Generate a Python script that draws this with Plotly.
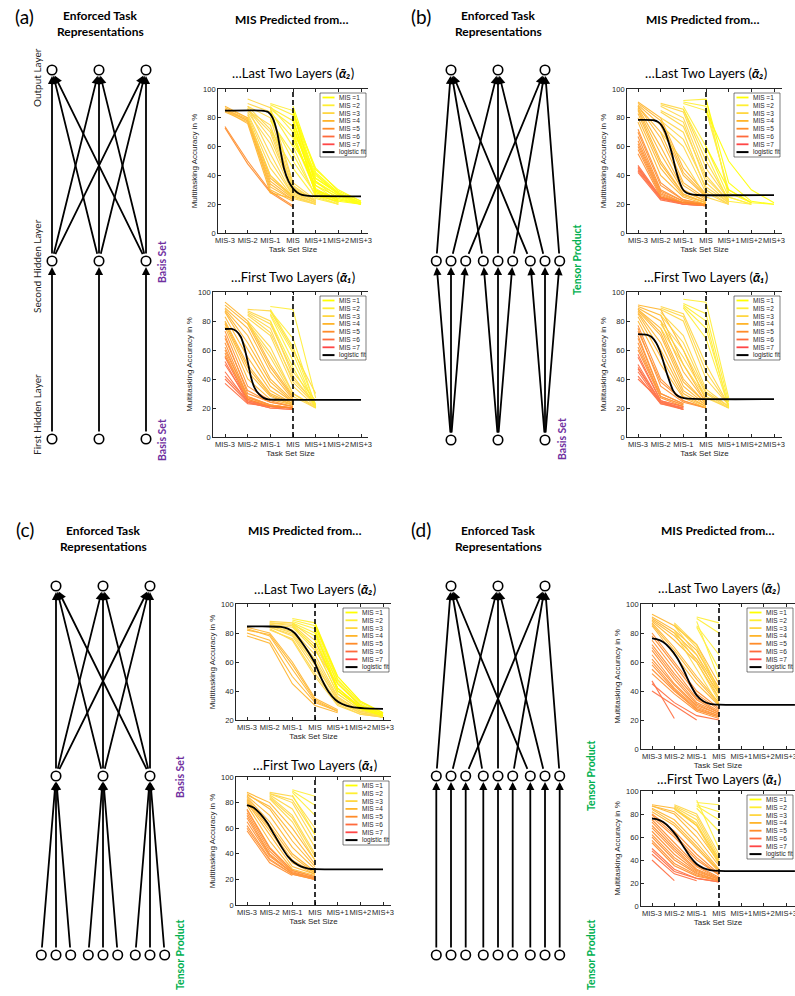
import plotly.graph_objects as go

W, H = 795, 996

# ---------------- data ----------------
MIS_COLORS = ["#FFFF00", "#FFEE33", "#FFD642", "#FFB42A", "#FF8C2A", "#FF6A3C", "#FF4646"]
LEGEND_LABELS = ["MIS =1", "MIS =2", "MIS =3", "MIS =4", "MIS =5", "MIS =6", "MIS =7", "logistic fit"]
X_TICKS = [-3, -2, -1, 0, 1, 2, 3]
X_TICK_TEXT = ["MIS-3", "MIS-2", "MIS-1", "MIS", "MIS+1", "MIS+2", "MIS+3"]
Y_TICKS = [0, 20, 40, 60, 80, 100]

# each network: (MIS of network, first task-set-size offset, accuracies in %)
A2_LINES = [
    (1, 0, [88, 42, 28, 21]), (1, 0, [85, 38, 27, 20]), (1, 0, [83, 44, 30, 22]),
    (1, 0, [78, 35, 26, 20]), (1, 0, [75, 30, 24, 20]), (1, 0, [70, 40, 27, 21]),
    (1, 0, [65, 33, 25, 20]), (1, 0, [86, 28, 23, 20]), (1, 0, [62, 36, 26, 21]),
    (1, 0, [80, 26, 22, 20]), (1, 0, [72, 38, 28, 21]), (1, 0, [68, 29, 24, 20]),
    (1, 0, [84, 45, 29, 22]), (1, 0, [77, 41, 27, 21]),
    (2, -1, [90, 85, 33, 22]), (2, -1, [88, 70, 28, 21]), (2, -1, [85, 60, 25, 20]),
    (2, -1, [80, 50, 27, 21]), (2, -1, [87, 78, 30, 22]), (2, -1, [72, 45, 24, 20]),
    (2, -1, [89, 82, 36, 23]), (2, -1, [84, 66, 29, 21]), (2, -1, [86, 74, 31, 22]),
    (2, -1, [78, 55, 26, 20]),
    (3, -2, [93, 87, 35, 23]), (3, -2, [88, 80, 30, 22]), (3, -2, [86, 70, 28, 21]),
    (3, -2, [84, 62, 27, 21]), (3, -2, [87, 55, 26, 20]), (3, -2, [82, 45, 25, 20]),
    (3, -2, [85, 75, 32, 22]), (3, -2, [90, 84, 33, 22]), (3, -2, [86, 66, 29, 21]),
    (3, -2, [83, 50, 26, 20]), (3, -2, [88, 72, 31, 22]), (3, -2, [80, 40, 24, 20]),
    (4, -3, [88, 80, 40, 25]), (4, -3, [85, 78, 36, 24]), (4, -3, [84, 77, 32, 23]),
    (4, -3, [86, 79, 30, 22]), (4, -3, [85, 76, 28, 24]), (4, -3, [87, 80, 38, 25]),
    (4, -3, [86, 78, 34, 23]),
    (5, -3, [74, 50, 29, 19]), (5, -3, [73, 48, 28, 18]),
]
A2_FIT_X = [-3, -1.4, -1.1, -0.9, -0.7, -0.55, -0.4, -0.2, 0, 0.2, 0.4, 0.7, 1.0, 3.0]
A2_FIT_Y = [85, 85, 84, 80, 70, 57, 45, 36, 31, 28, 26.5, 25.8, 25.6, 25.5]

A1_LINES = [
    (2, -1, [90, 88, 27]), (2, -1, [87, 68, 21]), (2, -1, [85, 58, 20]), (2, -1, [80, 48, 20]),
    (2, -1, [88, 62, 22]), (2, -1, [84, 52, 21]),
    (3, -2, [88, 87, 60, 30]), (3, -2, [87, 80, 42, 22]), (3, -2, [85, 75, 38, 22]),
    (3, -2, [82, 70, 35, 21]), (3, -2, [80, 62, 30, 20]), (3, -2, [78, 55, 28, 20]),
    (3, -2, [86, 78, 45, 25]), (3, -2, [84, 72, 40, 23]), (3, -2, [79, 58, 30, 21]),
    (4, -3, [93, 80, 50, 28]), (4, -3, [89, 75, 45, 26]), (4, -3, [88, 70, 40, 25]),
    (4, -3, [86, 60, 35, 24]), (4, -3, [80, 50, 30, 23]), (4, -3, [78, 45, 28, 22]),
    (4, -3, [76, 40, 26, 22]), (4, -3, [91, 78, 48, 27]), (4, -3, [87, 65, 38, 24]),
    (4, -3, [83, 55, 32, 23]), (4, -3, [79, 48, 29, 22]),
    (5, -3, [73, 35, 25, 21]), (5, -3, [70, 30, 24, 21]), (5, -3, [65, 28, 22, 20]),
    (5, -3, [62, 27, 22, 20]), (5, -3, [58, 26, 21, 20]), (5, -3, [68, 32, 24, 21]),
    (5, -3, [60, 28, 22, 20]), (5, -3, [56, 27, 22, 20]),
    (6, -3, [55, 25, 21, 20]), (6, -3, [52, 24, 20, 19]), (6, -3, [42, 25, 21, 20]),
    (6, -3, [40, 24, 20, 19]), (6, -3, [37, 23, 21, 20]), (6, -3, [50, 26, 21, 20]),
    (6, -3, [45, 24, 21, 20]),
]
A1_FIT_X = [-3, -2.7, -2.5, -2.3, -2.15, -2.0, -1.85, -1.7, -1.5, -1.3, -1.1, -0.8, 3.0]
A1_FIT_Y = [74.5, 74.5, 73, 69, 62, 52, 41, 34, 29.5, 27, 26, 25.7, 25.6]

B2_LINES = [
    (1, 0, [85, 50, 30, 21]), (1, 0, [93, 35, 22, 20]), (1, 0, [60, 30, 21, 20]),
    (2, -1, [92, 93, 25, 20]), (2, -1, [90, 85, 30, 21]), (2, -1, [88, 60, 25, 20]),
    (2, -1, [86, 55, 22, 20]), (2, -1, [91, 88, 28, 21]),
    (3, -2, [90, 86, 50, 23]), (3, -2, [88, 80, 40, 22]), (3, -2, [85, 77, 35, 21]),
    (3, -2, [80, 70, 30, 20]), (3, -2, [75, 60, 28, 20]), (3, -2, [70, 50, 25, 20]),
    (3, -2, [89, 84, 45, 23]), (3, -2, [84, 74, 38, 22]), (3, -2, [78, 65, 32, 21]),
    (4, -3, [91, 80, 45, 27]), (4, -3, [89, 75, 40, 25]), (4, -3, [88, 70, 35, 24]),
    (4, -3, [87, 60, 30, 22]), (4, -3, [85, 50, 27, 21]), (4, -3, [80, 45, 26, 21]),
    (4, -3, [77, 40, 25, 20]), (4, -3, [90, 78, 42, 26]), (4, -3, [88, 66, 33, 23]),
    (4, -3, [86, 55, 29, 22]), (4, -3, [83, 48, 27, 21]),
    (5, -3, [72, 35, 23, 20]), (5, -3, [67, 30, 22, 20]), (5, -3, [62, 28, 21, 19]),
    (5, -3, [58, 26, 21, 20]), (5, -3, [55, 25, 21, 20]), (5, -3, [70, 33, 23, 20]),
    (5, -3, [64, 29, 22, 20]), (5, -3, [60, 27, 21, 20]),
    (6, -3, [47, 25, 21, 20]), (6, -3, [45, 24, 20, 19]), (6, -3, [43, 24, 21, 20]),
    (6, -3, [42, 23, 20, 19]), (6, -3, [46, 24, 21, 20]), (6, -3, [44, 25, 20, 19]),
]
B2_FIT_X = [-3, -2.3, -2.1, -1.95, -1.8, -1.65, -1.5, -1.35, -1.2, -1.05, -0.9, -0.7, -0.4, 3.0]
B2_FIT_Y = [78.5, 78.3, 77, 74.5, 70, 63, 55, 45, 37, 31, 28.3, 27, 26.4, 26.3]

B1_LINES = [
    (2, -1, [95, 93, 27]), (2, -1, [91, 80, 20]), (2, -1, [90, 75, 22]), (2, -1, [89, 68, 21]),
    (2, -1, [92, 85, 24]),
    (3, -2, [90, 85, 50, 22]), (3, -2, [88, 80, 40, 22]), (3, -2, [86, 70, 33, 21]),
    (3, -2, [80, 60, 30, 20]), (3, -2, [75, 50, 27, 20]), (3, -2, [89, 83, 45, 22]),
    (3, -2, [84, 65, 31, 21]), (3, -2, [78, 55, 28, 20]),
    (4, -3, [91, 88, 60, 25]), (4, -3, [89, 80, 45, 24]), (4, -3, [88, 75, 40, 23]),
    (4, -3, [87, 70, 35, 22]), (4, -3, [85, 60, 30, 21]), (4, -3, [80, 50, 27, 20]),
    (4, -3, [90, 84, 50, 24]), (4, -3, [88, 72, 38, 23]), (4, -3, [86, 65, 32, 22]),
    (4, -3, [83, 55, 28, 21]),
    (5, -3, [77, 40, 25, 20]), (5, -3, [75, 35, 24, 20]), (5, -3, [70, 30, 23]),
    (5, -3, [65, 28, 22]), (5, -3, [60, 27, 21]), (5, -3, [73, 38, 25, 20]),
    (5, -3, [68, 30, 23]), (5, -3, [62, 28, 22]),
    (6, -3, [57, 25, 21]), (6, -3, [50, 24, 20]), (6, -3, [47, 24, 19]),
    (6, -3, [45, 23, 20]), (6, -3, [42, 23, 19]), (6, -3, [40, 25, 19]),
    (6, -3, [55, 25, 21]), (6, -3, [48, 24, 20]),
]
B1_FIT_X = [-3, -2.6, -2.4, -2.2, -2.05, -1.9, -1.75, -1.6, -1.45, -1.3, -1.1, -0.8, 3.0]
B1_FIT_Y = [71, 70.5, 69, 65, 60, 53, 45, 38, 32, 29, 27.3, 26.4, 26.1]

C2_LINES = [
    (1, 0, [85, 50, 33, 25]), (1, 0, [80, 45, 30, 24]), (1, 0, [75, 42, 28, 23]),
    (1, 0, [87, 48, 32, 25]), (1, 0, [82, 40, 29, 23]),
    (2, -1, [90, 87, 50, 33, 25]), (2, -1, [88, 83, 45, 30, 24]), (2, -1, [86, 78, 40, 28, 23]),
    (2, -1, [85, 70, 38, 27, 22]), (2, -1, [89, 85, 47, 31, 24]), (2, -1, [87, 80, 42, 29, 23]),
    (3, -2, [88, 87, 75, 40, 28, 24]), (3, -2, [87, 85, 70, 38, 27, 23]),
    (3, -2, [86, 82, 65, 36, 26, 23]), (3, -2, [85, 80, 60, 33, 25, 22]),
    (3, -2, [84, 78, 55, 32, 25, 22]), (3, -2, [83, 75, 50, 30, 24, 22]),
    (3, -2, [86, 84, 68, 45, 30, 25]), (3, -2, [87, 86, 72, 42, 29, 24]),
    (3, -2, [85, 81, 62, 35, 26, 23]), (3, -2, [84, 79, 58, 34, 25, 22]),
    (3, -2, [82, 76, 52, 31, 24, 22]),
    (4, -3, [84, 80, 60, 35, 27]), (4, -3, [83, 78, 55, 33, 26]),
    (4, -3, [80, 75, 50, 32, 26]), (4, -3, [78, 73, 45, 30, 25]), (4, -3, [82, 79, 58, 34, 26]),
]
C2_FIT_X = [-3, -2, -1.5, -1.2, -0.9, -0.6, -0.3, 0, 0.3, 0.6, 0.9, 1.2, 1.6, 2.2, 3.0]
C2_FIT_Y = [84.5, 84.5, 84.2, 83, 80, 74, 67, 59, 48, 39.5, 34, 31, 29, 28, 27.7]

C1_LINES = [
    (2, -1, [90, 85]), (2, -1, [88, 70]), (2, -1, [86, 55]), (2, -1, [89, 78]),
    (3, -2, [88, 85, 60]), (3, -2, [87, 80, 50]), (3, -2, [86, 75, 45]),
    (3, -2, [85, 70, 40]), (3, -2, [83, 65, 35]), (3, -2, [87, 82, 55]), (3, -2, [84, 68, 38]),
    (4, -3, [88, 80, 60, 35]), (4, -3, [87, 75, 50, 30]), (4, -3, [85, 70, 45, 28]),
    (4, -3, [84, 65, 40, 26]), (4, -3, [82, 60, 35, 25]), (4, -3, [80, 55, 30, 24]),
    (4, -3, [78, 50, 28, 23]), (4, -3, [86, 77, 55, 32]), (4, -3, [83, 62, 38, 25]),
    (4, -3, [81, 58, 33, 24]),
    (5, -3, [75, 45, 27, 22]), (5, -3, [72, 42, 26, 21]), (5, -3, [70, 40, 25, 21]),
    (5, -3, [65, 38, 25, 20]), (5, -3, [60, 35, 24, 20]), (5, -3, [58, 33, 23]),
    (5, -3, [74, 44, 27, 22]), (5, -3, [68, 39, 25, 21]), (5, -3, [62, 36, 24, 20]),
]
C1_FIT_X = [-3, -2.7, -2.4, -2.1, -1.8, -1.5, -1.2, -0.9, -0.6, -0.3, 0, 3.0]
C1_FIT_Y = [78, 76, 71, 64, 55, 46, 38, 33, 30, 28.5, 28, 27.8]

D2_LINES = [
    (2, -1, [91, 87]), (2, -1, [90, 80]), (2, -1, [85, 65]), (2, -1, [84, 55]), (2, -1, [88, 48]),
    (3, -2, [87, 72, 40]), (3, -2, [85, 65, 35]), (3, -2, [82, 60, 33]), (3, -2, [86, 70, 38]),
    (3, -2, [80, 55, 30]),
    (4, -3, [93, 85, 72, 45]), (4, -3, [90, 80, 65, 40]), (4, -3, [88, 75, 60, 35]),
    (4, -3, [87, 70, 50, 32]), (4, -3, [85, 65, 45, 30]), (4, -3, [91, 82, 68, 42]),
    (4, -3, [89, 78, 62, 38]), (4, -3, [86, 68, 48, 31]),
    (5, -3, [80, 60, 40, 28]), (5, -3, [75, 55, 35, 26]), (5, -3, [70, 50, 32, 25]),
    (5, -3, [65, 45, 30, 24]), (5, -3, [60, 42, 28, 23]), (5, -3, [55, 40, 27, 22]),
    (5, -3, [52, 38, 26, 21]), (5, -3, [78, 58, 38, 27]), (5, -3, [72, 52, 34, 25]),
    (5, -3, [68, 48, 31, 24]), (5, -3, [62, 44, 29, 23]), (5, -3, [58, 41, 27, 22]),
    (6, -3, [47, 21]), (6, -3, [40, 30, 20]), (6, -3, [45, 32, 23, 20]),
]
D2_FIT_X = [-3, -2.8, -2.5, -2.2, -1.9, -1.6, -1.3, -1.0, -0.7, -0.4, 0, 3.4]
D2_FIT_Y = [76.3, 75.8, 73.8, 69.6, 63.5, 55, 45, 37, 33, 31.2, 30.6, 30.5]

D1_LINES = [
    (2, -1, [90, 88]), (2, -1, [88, 82]), (2, -1, [87, 75]), (2, -1, [85, 65]), (2, -1, [92, 50]),
    (3, -2, [88, 80, 45]), (3, -2, [86, 75, 40]), (3, -2, [84, 70, 36]), (3, -2, [87, 78, 42]),
    (3, -2, [85, 72, 38]),
    (4, -3, [88, 85, 70, 40]), (4, -3, [87, 80, 60, 35]), (4, -3, [85, 75, 55, 32]),
    (4, -3, [82, 70, 50, 30]), (4, -3, [87, 82, 65, 38]), (4, -3, [84, 72, 52, 31]),
    (5, -3, [80, 65, 45, 28]), (5, -3, [77, 60, 40, 27]), (5, -3, [75, 55, 35, 25]),
    (5, -3, [70, 50, 32, 24]), (5, -3, [65, 45, 30, 23]), (5, -3, [60, 40, 28, 22]),
    (5, -3, [55, 35, 26, 22]), (5, -3, [79, 62, 42, 27]), (5, -3, [73, 52, 34, 24]),
    (5, -3, [68, 48, 31, 23]), (5, -3, [62, 42, 29, 22]), (5, -3, [57, 37, 27, 22]),
    (6, -3, [45, 28, 22]), (6, -3, [40, 22]), (6, -3, [48, 30, 24, 21]), (6, -3, [50, 32, 24, 21]),
]
D1_FIT_X = [-3, -2.8, -2.5, -2.2, -1.9, -1.6, -1.3, -1.0, -0.7, -0.4, 0, 3.4]
D1_FIT_Y = [76, 75.5, 73, 68, 61, 52, 43, 36.5, 33, 31.3, 30.5, 30.4]

# ---------------- layout (pixel geometry) ----------------
T2 = "…Last Two Layers (<b><i>ᾱ₂</i></b>)"
T1 = "…First Two Layers (<b><i>ᾱ₁</i></b>)"
CHARTS = [
    ("A2", A2_LINES, A2_FIT_X, A2_FIT_Y, T2), ("A1", A1_LINES, A1_FIT_X, A1_FIT_Y, T1),
    ("B2", B2_LINES, B2_FIT_X, B2_FIT_Y, T2), ("B1", B1_LINES, B1_FIT_X, B1_FIT_Y, T1),
    ("C2", C2_LINES, C2_FIT_X, C2_FIT_Y, T2), ("C1", C1_LINES, C1_FIT_X, C1_FIT_Y, T1),
    ("D2", D2_LINES, D2_FIT_X, D2_FIT_Y, T2), ("D1", D1_LINES, D1_FIT_X, D1_FIT_Y, T1),
]
# plot-area pixel boxes: left, top, right, bottom
CHART_BOXES = {
    "A2": (218, 89, 368, 233), "A1": (213, 292, 368, 437),
    "B2": (627, 89, 782, 233), "B1": (627, 292, 782, 437),
    "C2": (236, 604, 391, 720), "C1": (236, 777, 391, 905),
    "D2": (641, 604, 795, 749), "D1": (641, 791, 795, 906),
}
X_ANCHORS = {"A": (225, 293), "B": (638, 706), "C": (247, 315), "D": (652, 719)}
Y_RANGES = {"A2": (0, 100), "A1": (0, 100), "B2": (0, 100), "B1": (0, 100),
            "C2": (20, 100), "C1": (0, 100), "D2": (0, 100), "D1": (0, 100)}
TITLE_Y = {"A2": 73, "A1": 277, "B2": 73, "B1": 277, "C2": 589, "C1": 765, "D2": 588, "D1": 779}

AX_FONT = "Liberation Sans, Arial, sans-serif"
TXT_FONT = "Lato, DejaVu Sans, sans-serif"
AX_COLOR = "#262626"

fig = go.Figure()
layout = {}
shapes = []
annotations = []

OV = 9  # overlay axis index (pixel coordinates over whole page)

for idx, (key, lines, fx, fy, title) in enumerate(CHARTS, start=1):
    left, top, right, bottom = CHART_BOXES[key]
    pm3, p0 = X_ANCHORS[key[0]]
    s = (p0 - pm3) / 3.0
    xr = [-3 + (left - pm3) / s, (right - p0) / s]
    yr = list(Y_RANGES[key])
    xn = "x" if idx == 1 else f"x{idx}"
    yn = "y" if idx == 1 else f"y{idx}"
    xl = "xaxis" if idx == 1 else f"xaxis{idx}"
    yl = "yaxis" if idx == 1 else f"yaxis{idx}"
    layout[xl] = dict(
        domain=[left / W, min(right / W, 1.0)], range=xr, anchor=yn,
        tickmode="array", tickvals=X_TICKS, ticktext=X_TICK_TEXT, tickangle=0,
        ticklabeloverflow="allow",
        ticks="inside", ticklen=3, tickwidth=0.7, tickcolor=AX_COLOR,
        showline=True, linecolor=AX_COLOR, linewidth=0.8, mirror="ticks",
        showgrid=False, zeroline=False, automargin=False, fixedrange=True,
        tickfont=dict(family=AX_FONT, size=7.5, color=AX_COLOR),
        title=dict(text="Task Set Size", font=dict(family=AX_FONT, size=8, color=AX_COLOR), standoff=1),
    )
    layout[yl] = dict(
        domain=[1 - bottom / H, 1 - top / H], range=yr, anchor=xn,
        tickmode="array", tickvals=Y_TICKS,
        ticks="inside", ticklen=3, tickwidth=0.7, tickcolor=AX_COLOR,
        showline=True, linecolor=AX_COLOR, linewidth=0.8, mirror=False,
        showgrid=False, zeroline=False, automargin=False, fixedrange=True,
        tickfont=dict(family=AX_FONT, size=7.5, color=AX_COLOR),
        title=dict(text="Multitasking Accuracy in %", font=dict(family=AX_FONT, size=8, color=AX_COLOR), standoff=4),
    )
    for m in range(7, 0, -1):
        xs, ys = [], []
        for mis, x0, vals in lines:
            if mis != m:
                continue
            xs += [x0 + i for i in range(len(vals))] + [None]
            ys += list(vals) + [None]
        if xs:
            fig.add_trace(go.Scatter(x=xs, y=ys, mode="lines", xaxis=xn, yaxis=yn,
                                     line=dict(color=MIS_COLORS[m - 1], width=1.1),
                                     opacity=0.9, showlegend=False, hoverinfo="skip"))
    fig.add_trace(go.Scatter(x=fx, y=fy, mode="lines", xaxis=xn, yaxis=yn,
                             line=dict(color="black", width=1.8, shape="spline", smoothing=0.6),
                             showlegend=False, hoverinfo="skip"))
    shapes.append(dict(type="line", xref=xn, yref=f"{yn} domain", x0=0, x1=0, y0=0, y1=1,
                       line=dict(color="black", width=1.6, dash="5px,3px"), layer="above"))
    annotations.append(dict(text=title, xref=f"x{OV}", yref=f"y{OV}",
                            x=(pm3 + p0 + 3 * s) / 2, y=TITLE_Y[key], showarrow=False,
                            font=dict(family=TXT_FONT, size=13, color="black"),
                            xanchor="center", yanchor="middle"))
    bw, bh = 46, 64
    br = min(right, W) - 2
    bl = br - bw
    bt = top + 4
    shapes.append(dict(type="rect", xref=f"x{OV}", yref=f"y{OV}", x0=bl, x1=br, y0=bt, y1=bt + bh,
                       fillcolor="white", line=dict(color=AX_COLOR, width=0.6), layer="above"))
    for i, lab in enumerate(LEGEND_LABELS):
        yy = bt + 4.5 + 7.8 * i
        col = MIS_COLORS[i] if i < 7 else "black"
        shapes.append(dict(type="line", xref=f"x{OV}", yref=f"y{OV}", x0=bl + 2.5, x1=bl + 14.5,
                           y0=yy, y1=yy, line=dict(color=col, width=1.8 if i < 7 else 2), layer="above"))
        annotations.append(dict(text=lab, xref=f"x{OV}", yref=f"y{OV}", x=bl + 16.5, y=yy,
                                showarrow=False, xanchor="left", yanchor="middle",
                                font=dict(family=AX_FONT, size=6.5, color=AX_COLOR)))

# ---------------- network diagrams ----------------
GROUP_GAP = 47
SUB_GAP = 14.7
NODE_R = 5.5
PANELS = [
    dict(cx=99, ys=(70, 261, 439), l1="basis", l2="basis"),
    dict(cx=498, ys=(70, 261, 440), l1="basis", l2="tensor"),
    dict(cx=103, ys=(586, 776, 955), l1="tensor", l2="basis"),
    dict(cx=498, ys=(586, 776, 955), l1="tensor", l2="tensor"),
]


def layer_x(cx, kind):
    if kind == "basis":
        return [cx + GROUP_GAP * (g - 1) for g in range(3)]
    return [cx + GROUP_GAP * (g - 1) + SUB_GAP * (k - 1) for g in range(3) for k in range(3)]


node_x, node_y = [], []
for p in PANELS:
    yo, y2, y1 = p["ys"]
    xo = layer_x(p["cx"], "basis")
    x2 = layer_x(p["cx"], p["l2"])
    x1 = layer_x(p["cx"], p["l1"])
    edges = []
    if p["l1"] == p["l2"]:
        edges += [((x1[i], y1), (x2[i], y2)) for i in range(len(x1))]
    elif p["l1"] == "basis":
        edges += [((x1[g], y1), (x2[3 * g + k], y2)) for g in range(3) for k in range(3)]
    else:
        edges += [((x1[3 * g + k], y1), (x2[g], y2)) for g in range(3) for k in range(3)]
    if p["l2"] == "basis":
        edges += [((x2[i], y2), (xo[j], yo)) for i in range(3) for j in range(3)]
    else:
        edges += [((x2[3 * g + k], y2), (xo[k], yo)) for g in range(3) for k in range(3)]
    for (sx, sy), (tx, ty) in edges:
        annotations.append(dict(text="", xref=f"x{OV}", yref=f"y{OV}", axref=f"x{OV}", ayref=f"y{OV}",
                                x=tx, y=ty, ax=sx, ay=sy, showarrow=True, arrowhead=2,
                                arrowsize=0.9, arrowwidth=1.8, arrowcolor="black",
                                standoff=NODE_R + 0.5, startstandoff=NODE_R + 0.5))
    for xs_, yv in ((xo, yo), (x2, y2), (x1, y1)):
        node_x += xs_
        node_y += [yv] * len(xs_)

fig.add_trace(go.Scatter(x=node_x, y=node_y, mode="markers", xaxis=f"x{OV}", yaxis=f"y{OV}",
                         marker=dict(symbol="circle", size=2 * NODE_R - 1.5, color="white",
                                     line=dict(color="black", width=1.6)),
                         showlegend=False, hoverinfo="skip"))

layout[f"xaxis{OV}"] = dict(domain=[0, 1], range=[0, W], visible=False, fixedrange=True, anchor=f"y{OV}")
layout[f"yaxis{OV}"] = dict(domain=[0, 1], range=[H, 0], visible=False, fixedrange=True, anchor=f"x{OV}")

# ---------------- text labels ----------------
PANEL_LETTERS = [("(a)", 24, 16), ("(b)", 421, 16), ("(c)", 25, 529), ("(d)", 421, 529)]
HEADERS = [(100, 15), (498, 15), (103, 530), (498, 530)]
MIS_HEADERS = [(291, 19), (702, 19), (304, 530), (717, 530)]
LAYER_NAMES = [("Output Layer", 37, 78), ("Second Hidden Layer", 37, 266), ("First Hidden Layer", 37, 415)]
SIDE_LABELS = [
    ("Basis Set", "#7030A0", 162, 262), ("Basis Set", "#7030A0", 162, 440),
    ("Tensor Product", "#00B050", 577, 260), ("Basis Set", "#7030A0", 562, 439),
    ("Basis Set", "#7030A0", 180, 777), ("Tensor Product", "#00B050", 180, 955),
    ("Tensor Product", "#00B050", 591, 776), ("Tensor Product", "#00B050", 591, 955),
]


def txt(text, x, y, size, color="black", angle=0, bold=False):
    annotations.append(dict(text=f"<b>{text}</b>" if bold else text, xref=f"x{OV}", yref=f"y{OV}",
                            x=x, y=y, showarrow=False, textangle=angle, xanchor="center", yanchor="middle",
                            font=dict(family=TXT_FONT, size=size, color=color)))


for t, x, y in PANEL_LETTERS:
    txt(t, x, y, 19)
for x, y in HEADERS:
    txt("Enforced Task", x, y, 12, bold=True)
    txt("Representations", x, y + 16, 12, bold=True)
for x, y in MIS_HEADERS:
    txt("MIS Predicted from…", x, y, 12, bold=True)
for t, x, y in LAYER_NAMES:
    txt(t, x, y, 10, color="#222222", angle=-90)
for t, c, x, y in SIDE_LABELS:
    txt(t, x, y, 10.5, color=c, angle=-90, bold=True)

fig.update_layout(
    width=W, height=H, margin=dict(l=0, r=0, t=0, b=0),
    paper_bgcolor="white", plot_bgcolor="rgba(0,0,0,0)",
    showlegend=False, shapes=shapes, annotations=annotations, **layout,
)
fig.write_html("out.html")
